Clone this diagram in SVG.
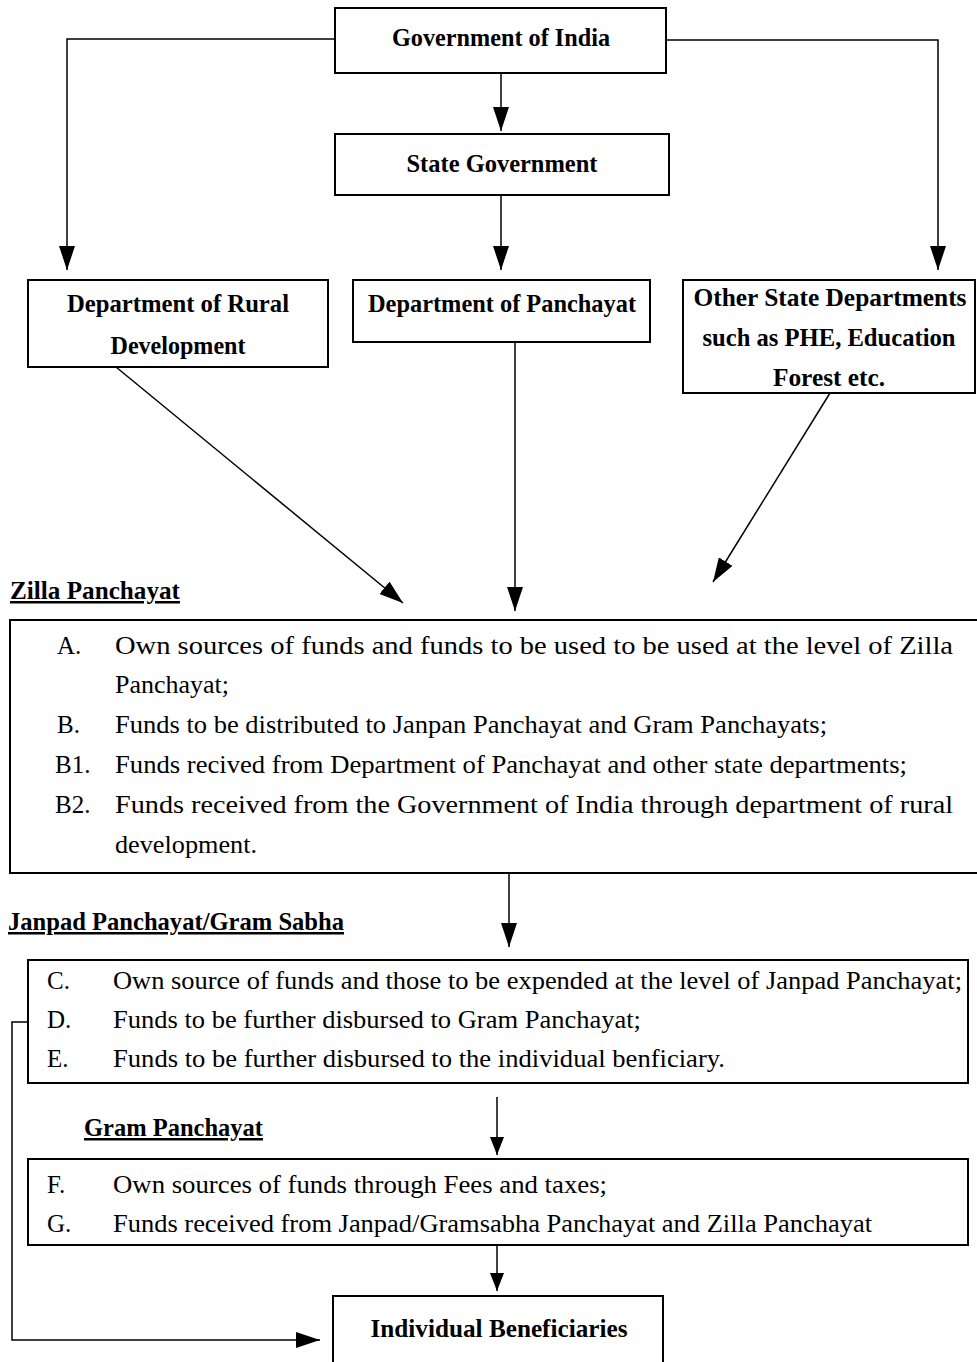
<svg xmlns="http://www.w3.org/2000/svg" width="977" height="1362" viewBox="0 0 977 1362">
<defs>
<style>
.box{fill:#fff;stroke:#000;stroke-width:2}
.conn{fill:none;stroke:#000;stroke-width:1.5}
.hd{font-family:"Liberation Serif","Times New Roman",serif;font-weight:bold;font-size:26px;fill:#000}
.lbl{font-family:"Liberation Serif","Times New Roman",serif;font-weight:bold;font-size:25px;fill:#000;text-decoration:underline}
.tx{font-family:"Liberation Serif","Times New Roman",serif;font-size:25px;fill:#000}
</style>
<marker id="ah" viewBox="0 0 24 16" refX="24" refY="8" markerWidth="24" markerHeight="16" markerUnits="userSpaceOnUse" orient="auto">
<path d="M0,0 L24,8 L0,16 z" fill="#000"/>
</marker>
<marker id="ahs" viewBox="0 0 18 14" refX="18" refY="7" markerWidth="18" markerHeight="14" markerUnits="userSpaceOnUse" orient="auto">
<path d="M0,0 L18,7 L0,14 z" fill="#000"/>
</marker>
</defs>
<rect width="977" height="1362" fill="#fff"/>

<g id="connectors">
<path class="conn" d="M335,39 H67 V270" marker-end="url(#ah)"/>
<path class="conn" d="M666,40 H938 V270" marker-end="url(#ah)"/>
<path class="conn" d="M501,73 V131" marker-end="url(#ah)"/>
<path class="conn" d="M501,195 V270" marker-end="url(#ah)"/>
<path class="conn" d="M116,367 L403,603" marker-end="url(#ah)"/>
<path class="conn" d="M515,342 V611" marker-end="url(#ah)"/>
<path class="conn" d="M830,393 L713,582" marker-end="url(#ah)"/>
<path class="conn" d="M509,873 V947" marker-end="url(#ah)"/>
<path class="conn" d="M497,1097 V1155" marker-end="url(#ahs)"/>
<path class="conn" d="M497,1245 V1291" marker-end="url(#ahs)"/>
<path class="conn" d="M28,1022 H12 V1340 H320" marker-end="url(#ah)"/>
</g>

<g id="gov-india">
<rect class="box" x="335" y="8" width="331" height="65"/>
<text class="hd" x="501" y="46" text-anchor="middle" textLength="218" lengthAdjust="spacingAndGlyphs">Government of India</text>
</g>

<g id="state-gov">
<rect class="box" x="335" y="134" width="334" height="61"/>
<text class="hd" x="502" y="172" text-anchor="middle" textLength="191" lengthAdjust="spacingAndGlyphs">State Government</text>
</g>

<g id="dept-rural">
<rect class="box" x="28" y="280" width="300" height="87"/>
<text class="hd" x="178" y="312" text-anchor="middle" textLength="222" lengthAdjust="spacingAndGlyphs">Department of Rural</text>
<text class="hd" x="178" y="354" text-anchor="middle" textLength="135" lengthAdjust="spacingAndGlyphs">Development</text>
</g>

<g id="dept-panchayat">
<rect class="box" x="353" y="280" width="297" height="62"/>
<text class="hd" x="502" y="312" text-anchor="middle" textLength="268" lengthAdjust="spacingAndGlyphs">Department of Panchayat</text>
</g>

<g id="other-depts">
<rect class="box" x="683" y="280" width="292" height="113"/>
<text class="hd" x="830" y="306" text-anchor="middle" textLength="273" lengthAdjust="spacingAndGlyphs">Other State Departments</text>
<text class="hd" x="829" y="346" text-anchor="middle" textLength="253" lengthAdjust="spacingAndGlyphs">such as PHE, Education</text>
<text class="hd" x="829" y="386" text-anchor="middle" textLength="112" lengthAdjust="spacingAndGlyphs">Forest etc.</text>
</g>

<g id="zilla">
<text class="lbl" x="10" y="599" textLength="170" lengthAdjust="spacingAndGlyphs">Zilla Panchayat</text>
<rect class="box" x="10" y="620" width="980" height="253"/>
<text class="tx" x="57" y="654">A.</text>
<text class="tx" x="115" y="654" textLength="838" lengthAdjust="spacingAndGlyphs">Own sources of funds and funds to be used to be used at the level of Zilla</text>
<text class="tx" x="115" y="693" textLength="114" lengthAdjust="spacingAndGlyphs">Panchayat;</text>
<text class="tx" x="57" y="733">B.</text>
<text class="tx" x="115" y="733" textLength="712" lengthAdjust="spacingAndGlyphs">Funds to be distributed to Janpan Panchayat and Gram Panchayats;</text>
<text class="tx" x="55" y="773">B1.</text>
<text class="tx" x="115" y="773" textLength="792" lengthAdjust="spacingAndGlyphs">Funds recived from Department of Panchayat and other state departments;</text>
<text class="tx" x="55" y="813">B2.</text>
<text class="tx" x="115" y="813" textLength="838" lengthAdjust="spacingAndGlyphs">Funds received from the Government of India through department of rural</text>
<text class="tx" x="115" y="853" textLength="142" lengthAdjust="spacingAndGlyphs">development.</text>
</g>

<g id="janpad">
<text class="lbl" x="8" y="930" textLength="336" lengthAdjust="spacingAndGlyphs">Janpad Panchayat/Gram Sabha</text>
<rect class="box" x="28" y="960" width="940" height="123"/>
<text class="tx" x="47" y="989">C.</text>
<text class="tx" x="113" y="989" textLength="849" lengthAdjust="spacingAndGlyphs">Own source of funds and those to be expended at the level of Janpad Panchayat;</text>
<text class="tx" x="47" y="1028">D.</text>
<text class="tx" x="113" y="1028" textLength="528" lengthAdjust="spacingAndGlyphs">Funds to be further disbursed to Gram Panchayat;</text>
<text class="tx" x="47" y="1067">E.</text>
<text class="tx" x="113" y="1067" textLength="612" lengthAdjust="spacingAndGlyphs">Funds to be further disbursed to the individual benficiary.</text>
</g>

<g id="gram">
<text class="lbl" x="84" y="1136" textLength="179" lengthAdjust="spacingAndGlyphs">Gram Panchayat</text>
<rect class="box" x="28" y="1159" width="940" height="86"/>
<text class="tx" x="47" y="1193">F.</text>
<text class="tx" x="113" y="1193" textLength="494" lengthAdjust="spacingAndGlyphs">Own sources of funds through Fees and taxes;</text>
<text class="tx" x="47" y="1232">G.</text>
<text class="tx" x="113" y="1232" textLength="759" lengthAdjust="spacingAndGlyphs">Funds received from Janpad/Gramsabha Panchayat and Zilla Panchayat</text>
</g>

<g id="beneficiaries">
<rect class="box" x="333" y="1296" width="330" height="80"/>
<text class="hd" x="499" y="1337" text-anchor="middle" textLength="257" lengthAdjust="spacingAndGlyphs">Individual Beneficiaries</text>
</g>
</svg>
